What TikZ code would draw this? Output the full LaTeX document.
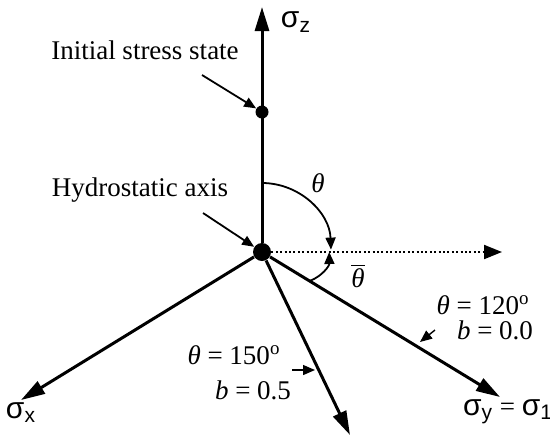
\documentclass[tikz,border=0pt]{standalone}
\usepackage{fontspec}
\setmainfont{Liberation Serif}
\newfontfamily\sigfont{Liberation Sans}
\usetikzlibrary{arrows.meta,positioning}

\tikzset{
  axis/.style={line width=1.5pt,-{Triangle[length=12pt,width=7pt]}},
  pointer/.style={line width=0.9pt,-{Triangle[length=6pt,width=5pt]}},
  dot/.style={circle,fill,inner sep=0pt,minimum size=6.5pt},
  lbl/.style={font=\fontsize{13.5}{15}\selectfont,inner sep=1pt},
}
\newcommand{\sig}[1]{{\sigfont\fontsize{15}{17}\selectfont σ\textsubscript{#1}}}

\begin{document}
\begin{tikzpicture}[x=0.5pt,y=0.5pt]
  \useasboundingbox (-262,-189) rectangle (288,252);
  % axes
  \node[dot,minimum width=9pt,minimum height=7pt] (O) at (0,0) {};
  \node[dot] (I) at (0,140) {};
  \coordinate (Z) at (0,245);
  \coordinate (X) at (-241,-148);
  \coordinate (Y) at (238,-145);
  \coordinate (P) at (88,-183);
  \coordinate (H) at (240,0);
  \draw[axis] (O) -- (Z);
  \draw[axis] (O) -- (X);
  \draw[axis] (O) -- (Y);
  \draw[axis] (O) -- (P);
  \draw[line width=1pt,dash pattern=on 1pt off 1.2pt,-{Triangle[length=9pt,width=7pt]}] (O) -- (H);
  \node[lbl] (sz) at (34,230) {\sig{z}};
  \node[lbl,below=0pt of X] (sx) {\sig{x}};
  \node[lbl,below=0pt of Y,xshift=4pt] (sy) {\sig{y} = \sig{1}};
  % angles
  \path (O.center) -- (Y) coordinate[pos=0.2] (Yb);
  \path (O.center) -- (H) coordinate[pos=0.28] (Hb);
  \draw[pointer] (O.center) ++(90:69) arc[start angle=90,end angle=2,radius=69];
  \draw[pointer] (Yb) to[bend right=35] (Hb);
  \node[lbl] (th) at (56,69) {\textit{θ}};
  \node[lbl] (thb) at (96,-24) {$\overline{\textit{θ}}$};
  % labels
  \node[lbl] (istate) at (-117,202) {Initial stress state};
  \coordinate (istail) at (-60,177);
  \draw[pointer] (istail) -- (I);
  \node[lbl] (hydro) at (-122,62) {Hydrostatic axis};
  \coordinate (hytail) at (-59,39);
  \draw[pointer] (hytail) -- (O);
  \node[lbl] (t120) at (221,-53) {\textit{θ} = 120\textsuperscript{o}};
  \node[lbl] (b00) at (233,-78) {\textit{b} = 0.0};
  \coordinate (p120) at (173,-78);
  \coordinate (q120) at (158,-90);
  \draw[pointer,line width=0.7pt] (p120) -- (q120);
  \node[lbl] (t150) at (-28,-103) {\textit{θ} = 150\textsuperscript{o}};
  \node[lbl] (b05) at (-9,-138) {\textit{b} = 0.5};
  \coordinate (p150) at (30,-118);
  \coordinate (q150) at (53,-118);
  \draw[pointer,line width=0.7pt] (p150) -- (q150);
\end{tikzpicture}
\end{document}
